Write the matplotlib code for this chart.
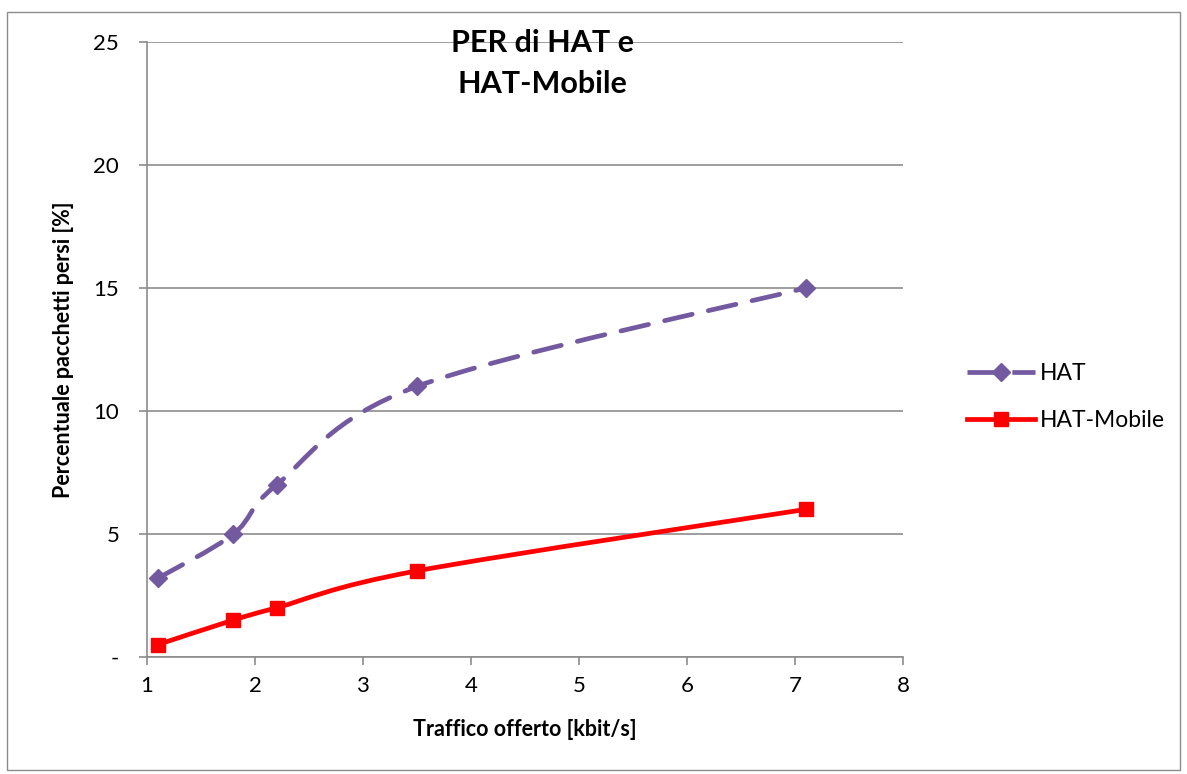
import matplotlib

matplotlib.use("Agg")

import matplotlib.pyplot as plt
from matplotlib.patches import PathPatch, Rectangle
from matplotlib.path import Path
from matplotlib.lines import Line2D
from matplotlib.ticker import FuncFormatter

plt.rcParams["font.family"] = ["Lato", "DejaVu Sans"]

traffic = [1.1, 1.8, 2.2, 3.5, 7.1]
per_hat = [3.2, 5.0, 7.0, 11.0, 15.0]
per_hat_mobile = [0.5, 1.5, 2.0, 3.5, 6.0]

series_names = ["HAT", "HAT-Mobile"]
hat_color = "#7359A0"
mobile_color = "#FF0000"


def smooth_path(xs, ys):
    # Excel-like smoothed line: cubic Bezier segments through the points
    pts = list(zip(xs, ys))
    verts = [pts[0]]
    codes = [Path.MOVETO]
    n = len(pts)
    for i in range(n - 1):
        p0 = pts[i - 1] if i > 0 else pts[i]
        p1 = pts[i]
        p2 = pts[i + 1]
        p3 = pts[i + 2] if i + 2 < n else pts[i + 1]
        c1 = (p1[0] + (p2[0] - p0[0]) / 6, p1[1] + (p2[1] - p0[1]) / 6)
        c2 = (p2[0] - (p3[0] - p1[0]) / 6, p2[1] - (p3[1] - p1[1]) / 6)
        verts += [c1, c2, p2]
        codes += [Path.CURVE4] * 3
    return Path(verts, codes)


fig = plt.figure(figsize=(11.87, 7.74), dpi=100)
ax = fig.add_axes([0.1238, 0.1512, 0.6369, 0.7945])

# outer chart border
fig.patches.append(Rectangle((0.006, 0.005), 0.988, 0.98, transform=fig.transFigure,
                             fill=False, edgecolor="#8c8c8c", linewidth=1.0))

dash = (0, (6, 3.5))
hat_patch = PathPatch(smooth_path(traffic, per_hat), fill=False, edgecolor=hat_color,
                      linewidth=3.4, linestyle=dash, capstyle="round", zorder=3)
ax.add_patch(hat_patch)
ax.plot(traffic, per_hat, linestyle="none", marker="D", markersize=9,
        color=hat_color, zorder=4)

mobile_patch = PathPatch(smooth_path(traffic, per_hat_mobile), fill=False,
                         edgecolor=mobile_color, linewidth=3.4, zorder=3)
ax.add_patch(mobile_patch)
ax.plot(traffic, per_hat_mobile, linestyle="none", marker="s", markersize=9.5,
        color=mobile_color, zorder=4)

ax.set_xlim(1, 8)
ax.set_ylim(0, 25)
ax.set_xticks(range(1, 9))
ax.set_yticks(range(0, 26, 5))
ax.yaxis.set_major_formatter(FuncFormatter(lambda v, p: "-" if v == 0 else f"{v:.0f}"))
ax.grid(axis="y", color="#8c8c8c", linewidth=1.2)
ax.set_axisbelow(True)

for side in ["top", "right"]:
    ax.spines[side].set_visible(False)
for side in ["left", "bottom"]:
    ax.spines[side].set_color("#8c8c8c")
    ax.spines[side].set_linewidth(1.2)
ax.tick_params(axis="both", direction="out", length=6, width=1.2, color="#8c8c8c",
               labelsize=16, pad=8)
ax.tick_params(axis="y", pad=14)

ax.set_xlabel("Traffico offerto [kbit/s]", fontsize=15.5, fontweight="bold", labelpad=16)
ax.set_ylabel("Percentuale pacchetti persi [%]", fontsize=15.5, fontweight="bold", labelpad=14)

fig.text(0.457, 0.962, "PER di HAT e\nHAT-Mobile", ha="center", va="top",
         fontsize=22, fontweight="bold", linespacing=1.55)

handles = [
    Line2D([], [], color=hat_color, linewidth=3.4, linestyle=dash,
           marker="D", markersize=9),
    Line2D([], [], color=mobile_color, linewidth=3.4, marker="s", markersize=9.5),
]
fig.legend(handles, series_names, loc="center left", bbox_to_anchor=(0.797, 0.487),
           frameon=False, fontsize=16.5, handlelength=3.0, labelspacing=1.15,
           handletextpad=0.2)

fig.savefig("out.png", dpi=100)
